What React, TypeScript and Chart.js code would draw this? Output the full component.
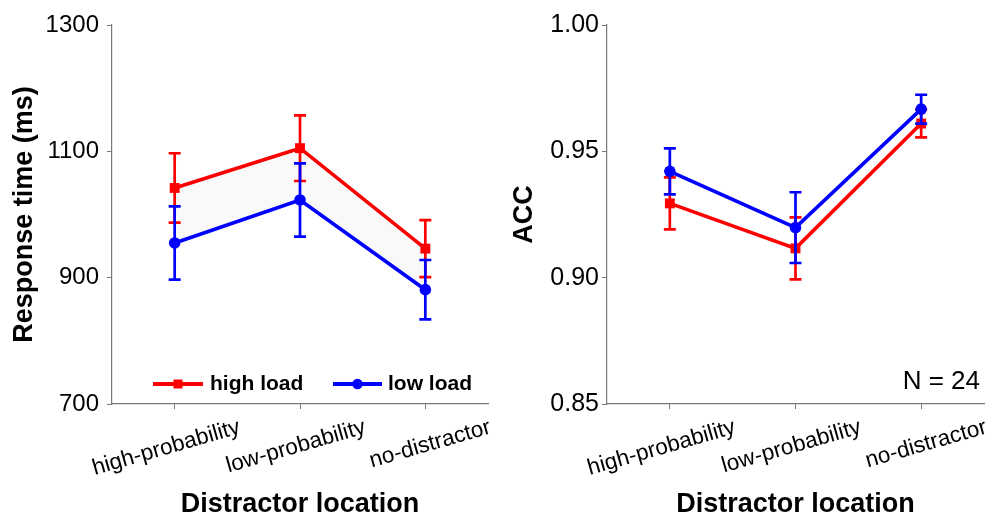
import React, { useEffect, useRef } from 'react';
import { Chart, registerables } from 'chart.js';

Chart.register(...registerables);

// ---------- data ----------
const categories = ['high-probability', 'low-probability', 'no-distractor'];
const seriesNames = ['high load', 'low load'];

const rtHigh = [1042, 1105, 946];
const rtHighErr = [55, 52, 45];
const rtLow = [955, 1023, 881];
const rtLowErr = [58, 58, 47];

const accHigh = [0.9294, 0.9116, 0.961];
const accHighErr = [0.0103, 0.0123, 0.0055];
const accLow = [0.9421, 0.9198, 0.9667];
const accLowErr = [0.0091, 0.014, 0.0057];

const rtTicks = [700, 900, 1100, 1300];
const accTicks = [0.85, 0.9, 0.95, 1.0];

const RED = '#ff0000';
const BLUE = '#0000ff';
const AXIS = '#7a7a7a';
const FONT = "'Liberation Sans', Arial, sans-serif";

// ---------- plugins ----------
function errorBarPlugin(errs: number[][], colors: string[]) {
  return {
    id: 'errbars',
    afterDatasetDraw(chart: any, args: any) {
      const i = args.index;
      const err = errs[i];
      if (!err) return;
      const meta = chart.getDatasetMeta(i);
      const ys = chart.scales.y;
      const data = chart.data.datasets[i].data as number[];
      const ctx = chart.ctx;
      ctx.save();
      ctx.strokeStyle = colors[i];
      ctx.lineWidth = 2.7;
      meta.data.forEach((pt: any, k: number) => {
        const x = pt.x;
        const yT = ys.getPixelForValue(data[k] + err[k]);
        const yB = ys.getPixelForValue(data[k] - err[k]);
        ctx.beginPath();
        ctx.moveTo(x, yT);
        ctx.lineTo(x, yB);
        ctx.moveTo(x - 6, yT);
        ctx.lineTo(x + 6, yT);
        ctx.moveTo(x - 6, yB);
        ctx.lineTo(x + 6, yB);
        ctx.stroke();
      });
      ctx.restore();
    },
  };
}

const legendPlugin = {
  id: 'customLegend',
  afterDraw(chart: any) {
    const ctx = chart.ctx;
    ctx.save();
    const y = 384;
    const items = [
      { x0: 153, x1: 203, color: RED, style: 'rect', tx: 210, label: seriesNames[0] },
      { x0: 333, x1: 382, color: BLUE, style: 'circle', tx: 388, label: seriesNames[1] },
    ];
    items.forEach((it) => {
      ctx.strokeStyle = it.color;
      ctx.fillStyle = it.color;
      ctx.lineWidth = 4;
      ctx.beginPath();
      ctx.moveTo(it.x0, y);
      ctx.lineTo(it.x1, y);
      ctx.stroke();
      const cx = (it.x0 + it.x1) / 2;
      if (it.style === 'rect') {
        ctx.fillRect(cx - 4.5, y - 4.5, 9, 9);
      } else {
        ctx.beginPath();
        ctx.arc(cx, y, 5.3, 0, Math.PI * 2);
        ctx.fill();
      }
      ctx.fillStyle = '#000';
      ctx.font = `bold 21px ${FONT}`;
      ctx.textAlign = 'left';
      ctx.textBaseline = 'middle';
      ctx.fillText(it.label, it.tx, y);
    });
    ctx.restore();
  },
};

const nPlugin = {
  id: 'nLabel',
  afterDraw(chart: any) {
    const ctx = chart.ctx;
    ctx.save();
    ctx.fillStyle = '#000';
    ctx.font = `26px ${FONT}`;
    ctx.textAlign = 'right';
    ctx.textBaseline = 'middle';
    ctx.fillText('N = 24', 485, 382);
    ctx.restore();
  },
};

// ---------- chart builder ----------
function makeConfig(opts: {
  high: number[];
  low: number[];
  highErr: number[];
  lowErr: number[];
  ticks: number[];
  decimals: number;
  yTitle: string;
  yTitlePad: number;
  yTickFont: number;
  yTickPad: number;
  fillBetween: boolean;
  extraPlugins: any[];
  rightPad: number;
}) {
  return {
    type: 'line',
    data: {
      labels: categories,
      datasets: [
        {
          label: seriesNames[0],
          data: opts.high,
          borderColor: RED,
          backgroundColor: RED,
          borderWidth: 3.6,
          pointStyle: 'rect',
          pointRadius: 7,
          pointBorderWidth: 0,
          pointBackgroundColor: RED,
          tension: 0,
          fill: false,
          order: 1,
          clip: false,
        },
        {
          label: seriesNames[1],
          data: opts.low,
          borderColor: BLUE,
          backgroundColor: opts.fillBetween ? 'rgba(0,0,0,0.025)' : BLUE,
          borderWidth: 3.6,
          pointStyle: 'circle',
          pointRadius: 5.8,
          pointBorderWidth: 0,
          pointBackgroundColor: BLUE,
          tension: 0,
          fill: opts.fillBetween ? '-1' : false,
          order: 0,
          clip: false,
        },
      ],
    },
    options: {
      responsive: false,
      animation: false,
      devicePixelRatio: 1,
      layout: { padding: { top: 25, right: opts.rightPad, bottom: 0, left: 0 } },
      plugins: {
        legend: { display: false },
        tooltip: { enabled: false },
      },
      scales: {
        x: {
          type: 'category',
          offset: true,
          grid: {
            display: true,
            drawOnChartArea: false,
            drawTicks: true,
            tickLength: 5,
            color: AXIS,
            offset: false,
          },
          border: { display: true, color: AXIS, width: 1.2 },
          ticks: {
            color: '#000',
            font: { family: FONT, size: 22.5 },
            minRotation: 16,
            maxRotation: 16,
            autoSkip: false,
            labelOffset: 65,
            padding: 5,
          },
          title: {
            display: true,
            text: 'Distractor location',
            color: '#000',
            font: { family: FONT, size: 27, weight: 'bold', lineHeight: 1 },
            padding: { top: 0, bottom: 0 },
          },
          afterFit(scale: any) {
            scale.height = 114;
          },
        },
        y: {
          min: opts.ticks[0],
          max: opts.ticks[opts.ticks.length - 1],
          afterBuildTicks(scale: any) {
            scale.ticks = opts.ticks.map((v) => ({ value: v }));
          },
          grid: {
            display: true,
            drawOnChartArea: false,
            drawTicks: true,
            tickLength: 5,
            color: AXIS,
          },
          border: { display: true, color: AXIS, width: 1.2 },
          ticks: {
            color: '#000',
            font: { family: FONT, size: opts.yTickFont },
            padding: opts.yTickPad,
            callback: (v: any) => Number(v).toFixed(opts.decimals),
          },
          title: {
            display: true,
            text: opts.yTitle,
            color: '#000',
            font: { family: FONT, size: 27, weight: 'bold', lineHeight: 1 },
            padding: { top: opts.yTitlePad, bottom: 0 },
          },
          afterFit(scale: any) {
            scale.width = 112;
          },
        },
      },
    },
    plugins: [
      errorBarPlugin([opts.highErr, opts.lowErr], [RED, BLUE]),
      ...opts.extraPlugins,
    ],
  } as any;
}

function Panel(props: { config: any; width: number; left: number }) {
  const ref = useRef<HTMLCanvasElement | null>(null);
  useEffect(() => {
    if (!ref.current) return;
    const chart = new Chart(ref.current, props.config);
    return () => chart.destroy();
  }, []);
  return (
    <canvas
      ref={ref}
      width={props.width}
      height={518}
      style={{ position: 'absolute', left: props.left, top: 0, width: props.width, height: 518 }}
    />
  );
}

export default function App() {
  const leftCfg = makeConfig({
    high: rtHigh,
    low: rtLow,
    highErr: rtHighErr,
    lowErr: rtLowErr,
    ticks: rtTicks,
    decimals: 0,
    yTitle: 'Response time (ms)',
    yTitlePad: 11,
    yTickFont: 24,
    yTickPad: 8,
    fillBetween: true,
    extraPlugins: [legendPlugin],
    rightPad: 5,
  });
  const rightCfg = makeConfig({
    high: accHigh,
    low: accLow,
    highErr: accHighErr,
    lowErr: accLowErr,
    ticks: accTicks,
    decimals: 2,
    yTitle: 'ACC',
    yTitlePad: 16,
    yTickFont: 25,
    yTickPad: 3,
    fillBetween: false,
    extraPlugins: [nPlugin],
    rightPad: 6,
  });
  return (
    <div
      style={{
        position: 'fixed',
        left: 0,
        top: 0,
        width: 991,
        height: 518,
        background: '#fff',
        overflow: 'hidden',
      }}
    >
      <Panel config={leftCfg} width={495} left={0} />
      <Panel config={rightCfg} width={496} left={495} />
    </div>
  );
}
